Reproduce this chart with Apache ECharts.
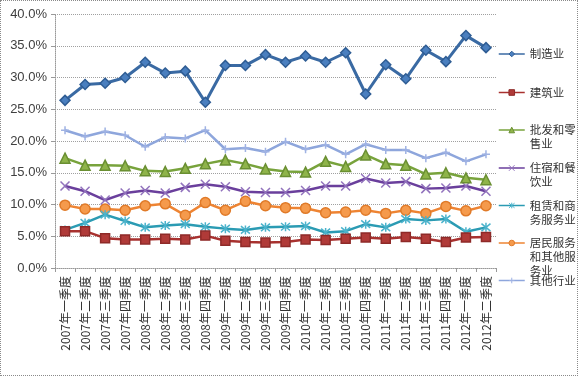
<!DOCTYPE html>
<html>
<head>
    <meta charset="utf-8" />
    <title>ECharts</title>
    <script src="https://cdn.jsdelivr.net/npm/echarts@6/dist/echarts.min.js"></script>
    <style>
        body { margin: 0; background: #fff; }
        #lineChart {
            width: 576px;
            height: 374px;
            border: 1px dotted #8a8a8a;
        }
    </style>
</head>
<body>
<div id="lineChart"></div>

<script>
    // quarters 2007Q1 .. 2012Q2
    const quarters = [
        '2007年一季度', '2007年二季度', '2007年三季度', '2007年四季度',
        '2008年一季度', '2008年二季度', '2008年三季度', '2008年四季度',
        '2009年一季度', '2009年二季度', '2009年三季度', '2009年四季度',
        '2010年一季度', '2010年二季度', '2010年三季度', '2010年四季度',
        '2011年一季度', '2011年二季度', '2011年三季度', '2011年四季度',
        '2012年一季度', '2012年二季度'
    ];

    // values in percent
    const manufacturing = [26.4, 28.9, 29.1, 30.0, 32.4, 30.7, 31.0, 26.1, 31.9, 31.9, 33.6, 32.4, 33.4, 32.4, 33.9, 27.4, 32.0, 29.8, 34.3, 32.5, 36.6, 34.7];
    const construction = [5.8, 5.8, 4.7, 4.5, 4.5, 4.6, 4.5, 5.1, 4.3, 4.1, 4.0, 4.1, 4.5, 4.4, 4.6, 4.8, 4.6, 4.9, 4.6, 4.1, 4.8, 4.9];
    const wholesale = [17.3, 16.2, 16.2, 16.1, 15.3, 15.2, 15.7, 16.4, 17.0, 16.4, 15.6, 15.2, 15.1, 16.8, 16.0, 17.8, 16.4, 16.2, 14.8, 15.0, 14.2, 13.9];
    const accommodation = [12.9, 12.1, 10.7, 11.8, 12.2, 11.8, 12.7, 13.2, 12.8, 12.0, 11.9, 11.9, 12.2, 12.9, 12.9, 14.1, 13.4, 13.6, 12.5, 12.6, 12.9, 12.1];
    const leasing = [6.0, 7.1, 8.4, 7.4, 6.4, 6.7, 6.9, 6.5, 6.2, 6.0, 6.4, 6.5, 6.6, 5.6, 5.8, 6.9, 6.4, 7.7, 7.5, 7.7, 5.7, 6.4];
    const residents = [9.9, 9.3, 9.3, 9.1, 9.8, 10.1, 8.3, 10.3, 9.1, 10.5, 9.8, 9.5, 9.4, 8.7, 8.8, 9.1, 8.6, 9.1, 8.6, 9.7, 9.0, 9.8];
    const others = [21.7, 20.7, 21.5, 20.9, 19.1, 20.6, 20.4, 21.7, 18.7, 18.9, 18.3, 19.9, 18.7, 19.4, 17.9, 19.5, 18.6, 18.6, 17.3, 18.2, 16.8, 17.9];

    const seriesNames = ['制造业', '建筑业', '批发和零售业', '住宿和餐饮业', '租赁和商务服务业', '居民服务和其他服务业', '其他行业'];
    const legendLines = [['制造业'], ['建筑业'], ['批发和零', '售业'], ['住宿和餐', '饮业'], ['租赁和商', '务服务业'], ['居民服务', '和其他服', '务业'], ['其他行业']];

    const X_MARK = 'path://M0,0L10,10M10,0L0,10';
    const STAR_MARK = 'path://M0,0L10,10M10,0L0,10M5,-1L5,11';
    const PLUS_MARK = 'path://M5,0L5,10M0,5L10,5';

    const styles = [
        {data: manufacturing, line: '#3a6aa3', fill: '#4a7fbf', border: '#2f5d94', symbol: 'diamond', size: 10, width: 3},
        {data: construction, line: '#a8312f', fill: '#b03a38', border: '#8e2a28', symbol: 'rect', size: 9, width: 2.5},
        {data: wholesale, line: '#78a33c', fill: '#8fb44a', border: '#6a8f32', symbol: 'triangle', size: 10, width: 2.5},
        {data: accommodation, line: '#6a3f9c', fill: 'none', border: '#9273bd', symbol: X_MARK, size: 9, width: 2.5},
        {data: leasing, line: '#2b9bb3', fill: 'none', border: '#4bb3cc', symbol: STAR_MARK, size: 9, width: 2.5},
        {data: residents, line: '#ee8433', fill: '#f59a4c', border: '#e07a28', symbol: 'circle', size: 10, width: 2.5},
        {data: others, line: '#8ea6dc', fill: 'none', border: '#9fb2e3', symbol: PLUS_MARK, size: 8, width: 2.5}
    ];

    let chart = echarts.init(document.getElementById('lineChart'));

    const LINE_H = 14;
    const iconY = [53, 91.5, 129, 167, 204.5, 242, 279.5];

    // legend text is centred on its icon, so pad with blank lines above
    // to keep the icon level with the first line
    let legends = seriesNames.map(function (name, i) {
        let lines = legendLines[i];
        let n = lines.length;
        let text = new Array(n - 1).fill(' ').concat(lines).join('\n');
        return {
            data: [name],
            orient: 'vertical',
            left: 497,
            top: iconY[i] - (2 * n - 1) * LINE_H / 2,
            padding: 0,
            itemWidth: 26,
            itemHeight: 7,
            itemGap: 0,
            selectedMode: false,
            lineStyle: {width: 1.5},
            itemStyle: {borderWidth: 1},
            formatter: function () { return text; },
            textStyle: {
                fontFamily: 'Noto Sans CJK SC',
                fontSize: 11.5,
                color: '#333',
                lineHeight: LINE_H
            }
        };
    });

    chart.setOption({
        animation: false,
        legend: legends,
        grid: {
            left: 54,
            right: 81,
            top: 13,
            bottom: 107
        },
        xAxis: {
            type: 'category',
            data: quarters,
            boundaryGap: true,
            axisLine: {lineStyle: {color: '#999', type: 'dotted'}},
            axisTick: {show: true, length: 4, lineStyle: {color: '#999'}},
            axisLabel: {
                rotate: 90,
                interval: 0,
                margin: 8,
                fontSize: 12,
                fontFamily: 'Noto Sans CJK SC',
                color: '#333'
            }
        },
        yAxis: {
            type: 'value',
            min: 0,
            max: 40,
            interval: 5,
            axisLine: {show: true, lineStyle: {color: '#999', type: 'dotted'}},
            axisTick: {show: true, length: 4, lineStyle: {color: '#999'}},
            splitLine: {lineStyle: {color: '#a0a0a0', type: 'dotted'}},
            axisLabel: {
                formatter: function (v) { return v.toFixed(1) + '%'; },
                fontSize: 13,
                fontFamily: 'Liberation Sans',
                color: '#404040',
                margin: 8
            }
        },
        series: styles.map(function (s, i) {
            return {
                name: seriesNames[i],
                type: 'line',
                data: s.data,
                symbol: s.symbol,
                symbolSize: s.size,
                lineStyle: {color: s.line, width: s.width},
                itemStyle: {color: s.fill, borderColor: s.border, borderWidth: 1.5},
                z: 10 - i
            };
        })
    });
</script>
</body>
</html>
